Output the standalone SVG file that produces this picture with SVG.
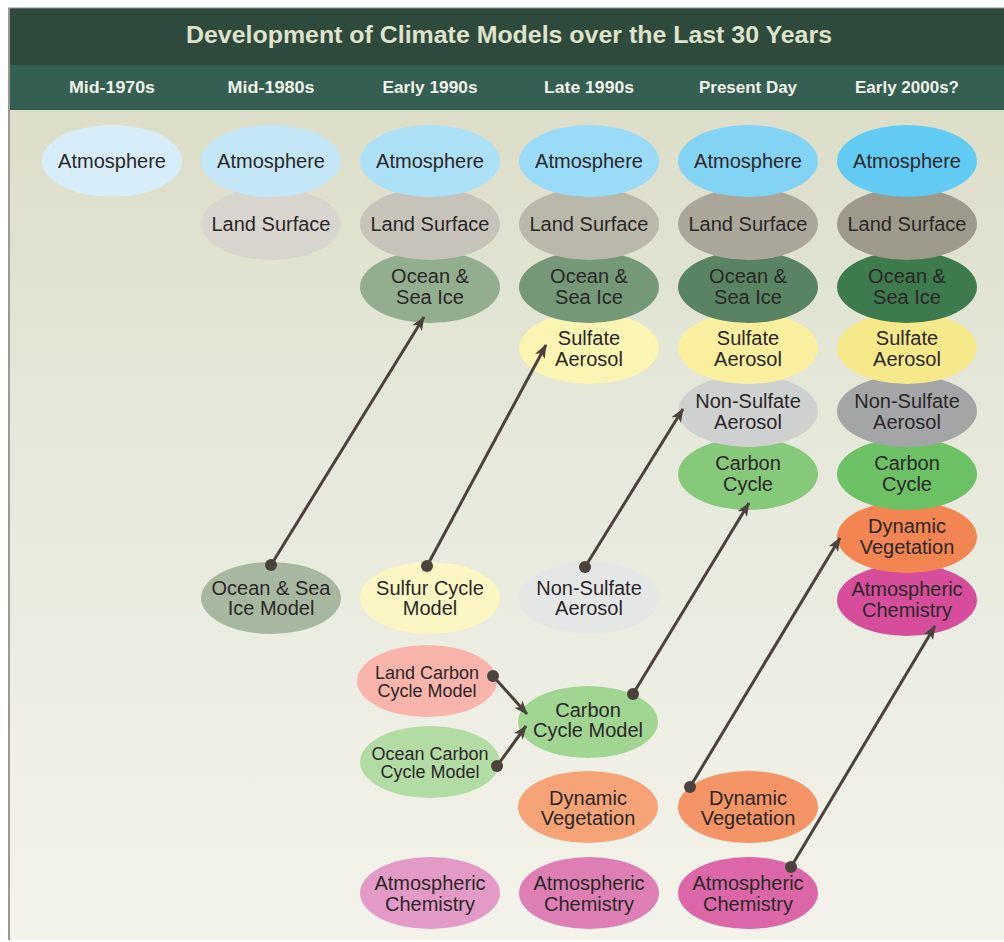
<svg xmlns="http://www.w3.org/2000/svg" width="1004" height="942" viewBox="0 0 1004 942">
<defs>
<linearGradient id="bg" x1="0" y1="0" x2="0" y2="1">
<stop offset="0" stop-color="#d9dbc4"/>
<stop offset="0.5" stop-color="#e7e9dc"/>
<stop offset="1" stop-color="#f4f3eb"/>
</linearGradient>
<marker id="ah" viewBox="0 0 14 11" refX="13" refY="5.5" markerWidth="14" markerHeight="11" markerUnits="userSpaceOnUse" orient="auto">
<path d="M0,0 L14,5.5 L0,11 L3.5,5.5 z" fill="#4b423e"/>
</marker>
</defs>
<style>
text{font-family:"Liberation Sans",Arial,sans-serif;}
.n text{font-size:20px;fill:#2b2727;text-anchor:middle;}
.s text{font-size:18px;}
.hd{font-size:17px;font-weight:bold;fill:#f1f2e8;text-anchor:middle;}
.c line{stroke:#4b423e;stroke-width:3;marker-end:url(#ah);}
.c circle{fill:#4b423e;}
</style>
<rect x="0" y="0" width="1004" height="942" fill="#ffffff"/>
<rect x="8" y="8" width="996" height="932" fill="url(#bg)"/>
<rect x="8" y="8" width="996" height="57" fill="#2f4a3c"/>
<rect x="8" y="65" width="996" height="45" fill="#345f52"/>
<line x1="9" y1="8" x2="9" y2="940" stroke="#9a9a90" stroke-width="2"/>
<line x1="8" y1="8" x2="1004" y2="8" stroke="#8a9088" stroke-width="1"/>
<text x="509" y="43" font-size="23" font-weight="bold" fill="#dfe3cc" text-anchor="middle" textLength="646" lengthAdjust="spacingAndGlyphs">Development of Climate Models over the Last 30 Years</text>
<g id="headers">
<text class="hd" x="112" y="93" textLength="86" lengthAdjust="spacingAndGlyphs">Mid-1970s</text>
<text class="hd" x="271" y="93" textLength="87" lengthAdjust="spacingAndGlyphs">Mid-1980s</text>
<text class="hd" x="430" y="93" textLength="95" lengthAdjust="spacingAndGlyphs">Early 1990s</text>
<text class="hd" x="589" y="93" textLength="90" lengthAdjust="spacingAndGlyphs">Late 1990s</text>
<text class="hd" x="748" y="93" textLength="98" lengthAdjust="spacingAndGlyphs">Present Day</text>
<text class="hd" x="907" y="93" textLength="104" lengthAdjust="spacingAndGlyphs">Early 2000s?</text>
</g>

<!-- Column 6 (Early 2000s?) bottom-up -->
<g id="c6-atmchem" class="n"><ellipse cx="907" cy="600" rx="70" ry="36" fill="#d54d9b"/><text x="907" y="596">Atmospheric</text><text x="907" y="617">Chemistry</text></g>
<g id="c6-dynveg" class="n"><ellipse cx="907" cy="537" rx="70" ry="36" fill="#f28551"/><text x="907" y="533">Dynamic</text><text x="907" y="554">Vegetation</text></g>
<g id="c6-carbon" class="n"><ellipse cx="907" cy="474" rx="70" ry="36" fill="#6cc165"/><text x="907" y="470">Carbon</text><text x="907" y="491">Cycle</text></g>
<g id="c6-nonsulf" class="n"><ellipse cx="907" cy="411" rx="70" ry="36" fill="#a4a5a6"/><text x="907" y="408">Non-Sulfate</text><text x="907" y="429">Aerosol</text></g>
<g id="c6-sulf" class="n"><ellipse cx="907" cy="348" rx="70" ry="36" fill="#f6e98a"/><text x="907" y="345">Sulfate</text><text x="907" y="366">Aerosol</text></g>
<g id="c6-ocean" class="n"><ellipse cx="907" cy="287" rx="70" ry="36" fill="#3d7a4e"/><text x="907" y="283">Ocean &amp;</text><text x="907" y="304">Sea Ice</text></g>
<g id="c6-land" class="n"><ellipse cx="907" cy="224" rx="70" ry="36" fill="#9e9a8b"/><text x="907" y="231">Land Surface</text></g>
<g id="c6-atm" class="n"><ellipse cx="907" cy="161" rx="70" ry="36" fill="#62cbf3"/><text x="907" y="168">Atmosphere</text></g>

<!-- Column 5 (Present Day) -->
<g id="c5-carbon" class="n"><ellipse cx="748" cy="474" rx="70" ry="36" fill="#87c97a"/><text x="748" y="470">Carbon</text><text x="748" y="491">Cycle</text></g>
<g id="c5-nonsulf" class="n"><ellipse cx="748" cy="411" rx="70" ry="36" fill="#cfd1d0"/><text x="748" y="408">Non-Sulfate</text><text x="748" y="429">Aerosol</text></g>
<g id="c5-sulf" class="n"><ellipse cx="748" cy="348" rx="70" ry="36" fill="#f9ef9e"/><text x="748" y="345">Sulfate</text><text x="748" y="366">Aerosol</text></g>
<g id="c5-ocean" class="n"><ellipse cx="748" cy="287" rx="70" ry="36" fill="#588463"/><text x="748" y="283">Ocean &amp;</text><text x="748" y="304">Sea Ice</text></g>
<g id="c5-land" class="n"><ellipse cx="748" cy="224" rx="70" ry="36" fill="#aaa79a"/><text x="748" y="231">Land Surface</text></g>
<g id="c5-atm" class="n"><ellipse cx="748" cy="161" rx="70" ry="36" fill="#83d3f5"/><text x="748" y="168">Atmosphere</text></g>

<!-- Column 4 (Late 1990s) -->
<g id="c4-sulf" class="n"><ellipse cx="589" cy="348" rx="70" ry="36" fill="#fbf5b4"/><text x="589" y="345">Sulfate</text><text x="589" y="366">Aerosol</text></g>
<g id="c4-ocean" class="n"><ellipse cx="589" cy="287" rx="70" ry="36" fill="#749878"/><text x="589" y="283">Ocean &amp;</text><text x="589" y="304">Sea Ice</text></g>
<g id="c4-land" class="n"><ellipse cx="589" cy="224" rx="70" ry="36" fill="#b9b8ab"/><text x="589" y="231">Land Surface</text></g>
<g id="c4-atm" class="n"><ellipse cx="589" cy="161" rx="70" ry="36" fill="#9adbf7"/><text x="589" y="168">Atmosphere</text></g>

<!-- Column 3 (Early 1990s) -->
<g id="c3-ocean" class="n"><ellipse cx="430" cy="287" rx="70" ry="36" fill="#93ad8f"/><text x="430" y="283">Ocean &amp;</text><text x="430" y="304">Sea Ice</text></g>
<g id="c3-land" class="n"><ellipse cx="430" cy="224" rx="70" ry="36" fill="#c6c4ba"/><text x="430" y="231">Land Surface</text></g>
<g id="c3-atm" class="n"><ellipse cx="430" cy="161" rx="70" ry="36" fill="#ace0f6"/><text x="430" y="168">Atmosphere</text></g>

<!-- Column 2 (Mid-1980s) -->
<g id="c2-land" class="n"><ellipse cx="271" cy="224" rx="70" ry="36" fill="#d7d5cd"/><text x="271" y="231">Land Surface</text></g>
<g id="c2-atm" class="n"><ellipse cx="271" cy="161" rx="70" ry="36" fill="#c4e7f7"/><text x="271" y="168">Atmosphere</text></g>

<!-- Column 1 (Mid-1970s) -->
<g id="c1-atm" class="n"><ellipse cx="112" cy="161" rx="70" ry="36" fill="#d7eefa"/><text x="112" y="168">Atmosphere</text></g>

<!-- Component models -->
<g id="m-ocean" class="n"><ellipse cx="271" cy="598" rx="70" ry="36" fill="#a8b8a0"/><text x="271" y="595">Ocean &amp; Sea</text><text x="271" y="615">Ice Model</text></g>
<g id="m-sulfur" class="n"><ellipse cx="430" cy="598" rx="70" ry="36" fill="#fbf6c3"/><text x="430" y="595">Sulfur Cycle</text><text x="430" y="615">Model</text></g>
<g id="m-nonsulf" class="n"><ellipse cx="589" cy="598" rx="70" ry="36" fill="#e5e6e6"/><text x="589" y="595">Non-Sulfate</text><text x="589" y="615">Aerosol</text></g>
<g id="m-landcarbon" class="n s"><ellipse cx="427" cy="681" rx="70" ry="36" fill="#f9b4ac"/><text x="427" y="679">Land Carbon</text><text x="427" y="697">Cycle Model</text></g>
<g id="m-oceancarbon" class="n s"><ellipse cx="430" cy="762" rx="70" ry="36" fill="#b3dca4"/><text x="430" y="760">Ocean Carbon</text><text x="430" y="778">Cycle Model</text></g>
<g id="m-carbon" class="n"><ellipse cx="588" cy="722" rx="70" ry="36" fill="#a1d592"/><text x="588" y="717">Carbon</text><text x="588" y="737">Cycle Model</text></g>
<g id="m-dynveg4" class="n"><ellipse cx="588" cy="807" rx="70" ry="36" fill="#f6a477"/><text x="588" y="805">Dynamic</text><text x="588" y="825">Vegetation</text></g>
<g id="m-dynveg5" class="n"><ellipse cx="748" cy="807" rx="70" ry="36" fill="#f59466"/><text x="748" y="805">Dynamic</text><text x="748" y="825">Vegetation</text></g>
<g id="m-atmchem3" class="n"><ellipse cx="430" cy="893" rx="70" ry="36" fill="#e49ac6"/><text x="430" y="890">Atmospheric</text><text x="430" y="911">Chemistry</text></g>
<g id="m-atmchem4" class="n"><ellipse cx="589" cy="893" rx="70" ry="36" fill="#dd7fb4"/><text x="589" y="890">Atmospheric</text><text x="589" y="911">Chemistry</text></g>
<g id="m-atmchem5" class="n"><ellipse cx="748" cy="893" rx="70" ry="36" fill="#dc67a8"/><text x="748" y="890">Atmospheric</text><text x="748" y="911">Chemistry</text></g>

<g id="connectors" class="c">
<line x1="271" y1="565" x2="424" y2="317"/><circle cx="271" cy="565" r="6"/>
<line x1="427" y1="566" x2="546" y2="345"/><circle cx="427" cy="566" r="6"/>
<line x1="585" y1="567" x2="683" y2="409"/><circle cx="585" cy="567" r="6"/>
<line x1="633" y1="694" x2="749" y2="503"/><circle cx="633" cy="694" r="6"/>
<line x1="690" y1="787" x2="840" y2="538"/><circle cx="690" cy="787" r="6"/>
<line x1="791" y1="867" x2="935" y2="626"/><circle cx="791" cy="867" r="6"/>
<line x1="493" y1="676" x2="527" y2="714"/><circle cx="493" cy="676" r="6"/>
<line x1="497" y1="766" x2="526" y2="726"/><circle cx="497" cy="766" r="6"/>
</g>
</svg>
